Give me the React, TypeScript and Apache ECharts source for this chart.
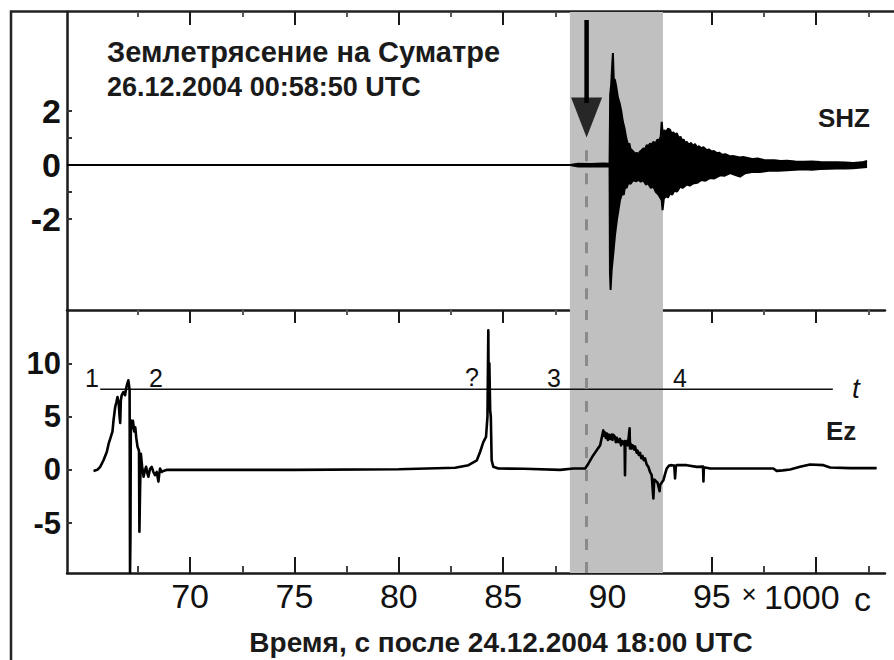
import React, { useEffect, useRef } from 'react';
import * as echarts from 'echarts';

// time axis, thousands of seconds after 24.12.2004 18:00 UTC
const X_MIN = 64.1;
const X_MAX = 103.3;
const xMajorTicks = [70, 75, 80, 85, 90, 95, 100];
const xMinorTicks = [67.5, 72.5, 77.5, 82.5, 87.5, 92.5, 97.5, 102.5];
const xLabelValues = [70, 75, 80, 85, 90, 95];

// SHZ panel
const SHZ_MIN = -5.37;
const SHZ_MAX = 5.67;
const shzTickValues = [-2, -1, 0, 1, 2];
const shzLabelValues = [-2, 0, 2];

// Ez panel
const EZ_MIN = -9.68;
const EZ_MAX = 15;
const ezTickValues = [-5, 0, 5, 10];
const ezLabelValues = [-5, 0, 5, 10];

// SHZ seismogram envelope (upper / lower)
const shzUpTime = [64.11, 88.2, 88.6, 89.2, 89.8, 90.1, 90.13, 90.18, 90.22, 90.26, 90.3, 90.36, 90.42, 90.5, 90.58, 90.66, 90.74, 90.82, 90.9, 90.95, 91.0, 91.05, 91.1, 91.17, 91.24, 91.32, 91.4, 91.48, 91.56, 91.64, 91.72, 91.8, 91.88, 91.96, 92.04, 92.12, 92.2, 92.3, 92.4, 92.48, 92.55, 92.6, 92.66, 92.73, 92.8, 92.9, 93.0, 93.08, 93.16, 93.24, 93.32, 93.42, 93.5, 93.58, 93.65, 93.72, 93.8, 93.9, 94.0, 94.1, 94.2, 94.28, 94.38, 94.5, 94.6, 94.76, 94.85, 95.0, 95.1, 95.24, 95.35, 95.5, 95.65, 95.88, 96.0, 96.35, 96.5, 96.98, 97.2, 97.5, 98.0, 98.3, 98.61, 99.0, 99.4, 99.8, 100.19, 100.6, 101.0, 101.4, 101.77, 102.2, 102.44];
const shzUp = [0, 0, 0.05, 0.04, 0.06, 0.05, 2.6, 3.0, 3.6, 4.15, 3.2, 3.15, 2.9, 2.5, 2.3, 2.0, 1.6, 1.35, 1.0, 0.85, 0.75, 0.8, 0.6, 0.55, 0.5, 0.42, 0.45, 0.4, 0.5, 0.55, 0.62, 0.58, 0.74, 0.7, 0.8, 0.75, 0.86, 0.8, 0.95, 0.9, 1.05, 1.6, 1.05, 1.3, 1.2, 1.35, 1.3, 1.15, 1.22, 1.1, 1.18, 1.0, 1.05, 0.9, 0.95, 0.82, 0.86, 0.75, 0.82, 0.7, 0.78, 0.65, 0.7, 0.62, 0.66, 0.55, 0.58, 0.5, 0.52, 0.44, 0.46, 0.38, 0.4, 0.32, 0.34, 0.28, 0.3, 0.22, 0.24, 0.19, 0.18, 0.15, 0.16, 0.13, 0.12, 0.13, 0.11, 0.1, 0.1, 0.09, 0.08, 0.1, 0.15];
const shzLowTime = [64.11, 88.2, 88.6, 89.4, 90.1, 90.12, 90.15, 90.2, 90.28, 90.36, 90.45, 90.52, 90.6, 90.7, 90.78, 90.84, 90.92, 91.0, 91.1, 91.24, 91.36, 91.5, 91.6, 91.72, 91.84, 91.95, 92.08, 92.2, 92.32, 92.45, 92.6, 92.64, 92.7, 92.8, 92.9, 93.0, 93.1, 93.2, 93.34, 93.48, 93.6, 93.8, 93.95, 94.1, 94.3, 94.5, 94.7, 94.92, 95.1, 95.4, 95.6, 95.88, 96.1, 96.35, 96.6, 96.98, 97.3, 97.8, 98.2, 98.61, 99.0, 99.4, 99.8, 100.19, 100.6, 101.0, 101.4, 101.77, 102.44];
const shzLow = [0, 0, -0.05, -0.04, -0.05, -4.0, -4.63, -3.9, -3.27, -2.6, -2.04, -1.7, -1.3, -1.05, -1.1, -0.8, -0.85, -0.65, -0.7, -0.56, -0.6, -0.55, -0.62, -0.56, -0.72, -0.68, -0.85, -0.8, -1.0, -1.1, -1.3, -1.67, -1.25, -1.15, -1.2, -1.04, -1.1, -0.95, -0.98, -0.8, -0.85, -0.72, -0.76, -0.68, -0.66, -0.55, -0.58, -0.48, -0.5, -0.38, -0.4, -0.3, -0.36, -0.43, -0.3, -0.25, -0.26, -0.2, -0.21, -0.19, -0.17, -0.16, -0.17, -0.15, -0.14, -0.13, -0.13, -0.12, -0.07];

// Ez trace
const ezTime = [65.37, 65.55, 65.69, 65.85, 66.01, 66.1, 66.17, 66.28, 66.33, 66.41, 66.46, 66.52, 66.58, 66.62, 66.65, 66.68, 66.72, 66.8, 66.88, 66.93, 66.97, 67.04, 67.1, 67.12, 67.14, 67.16, 67.21, 67.26, 67.32, 67.37, 67.42, 67.48, 67.55, 67.57, 67.6, 67.64, 67.7, 67.77, 67.83, 67.89, 67.95, 68.0, 68.08, 68.16, 68.24, 68.32, 68.4, 68.48, 68.52, 68.56, 68.64, 68.72, 68.9, 75.0, 80.0, 82.7, 83.34, 83.74, 83.9, 84.05, 84.18, 84.25, 84.29, 84.31, 84.34, 84.38, 84.41, 84.45, 84.53, 84.77, 86.0, 87.73, 88.37, 88.93, 89.09, 89.32, 89.65, 89.8, 89.84, 89.88, 89.92, 89.97, 90.02, 90.08, 90.12, 90.2, 90.24, 90.28, 90.36, 90.4, 90.45, 90.52, 90.6, 90.65, 90.7, 90.78, 90.82, 90.84, 90.86, 90.92, 90.98, 91.06, 91.08, 91.1, 91.16, 91.2, 91.28, 91.32, 91.4, 91.44, 91.5, 91.56, 91.62, 91.68, 91.74, 91.8, 91.88, 91.96, 92.04, 92.12, 92.2, 92.24, 92.28, 92.4, 92.5, 92.52, 92.6, 92.68, 92.76, 92.84, 92.95, 93.08, 93.2, 93.24, 93.28, 93.32, 93.8, 94.28, 94.58, 94.6, 94.62, 94.92, 95.72, 97.31, 97.95, 98.11, 98.4, 98.75, 99.23, 99.71, 100.35, 100.67, 101.62, 102.9];
const ezValue = [-0.1, 0.0, 0.28, 0.9, 1.7, 2.5, 2.9, 3.6, 4.66, 5.9, 6.3, 6.84, 6.2, 5.0, 4.4, 6.5, 7.0, 7.3, 7.0, 7.6, 7.94, 8.4, 7.5, -9.6, -6.4, 4.66, 3.9, 4.6, 3.6, 4.0, 3.0, 2.16, 1.8, -5.8, -2.0, 1.5, 0.3, -0.65, -0.1, 0.28, -0.3, -0.65, 0.1, 0.28, -0.2, -0.5, -0.2, -1.1, -0.4, 0.13, -0.2, -0.1, 0.0, 0.0, 0.05, 0.2, 0.44, 0.9, 1.7, 2.6, 3.1, 5.0, 13.1, 6.0, 10.0, 5.5, 5.0, 0.9, 0.28, 0.13, 0.1, 0.0, 0.13, 0.13, 0.6, 1.38, 2.3, 3.7, 3.2, 3.5, 3.0, 3.4, 2.8, 3.3, 2.9, 3.3, 2.8, 3.3, 3.1, 2.6, 3.0, 2.6, 2.9, 2.3, 2.7, 2.4, 2.7, -0.5, 2.4, 2.7, 2.3, 3.9, 2.0, 2.5, 2.0, 2.3, 1.9, 2.2, 1.6, 1.8, 1.4, 1.6, 1.1, 1.3, 0.9, 1.07, 0.5, 0.28, -0.2, -0.5, -2.68, -0.9, -0.97, -1.2, -2.0, -1.43, -1.2, -0.97, -0.4, 0.13, 0.4, 0.44, 0.4, -0.8, 0.4, 0.44, 0.44, 0.28, 0.3, -1.1, 0.25, 0.13, 0.13, 0.13, 0.13, -0.1, -0.05, 0.04, 0.28, 0.5, 0.44, 0.22, 0.16, 0.16];

// annotations
const bandStart = 88.2;
const bandEnd = 92.66;
const arrivalTime = 89.0;
const tLineLevel = 7.56;
const tLineStart = 65.69;
const tLineEnd = 100.8;

const zip = (xs: number[], ys: number[]) => xs.map((x, i) => [x, ys[i]]);

const FONT = '"Liberation Sans", Arial, sans-serif';
const AXIS = '#1a1a1a';

function buildOption() {
  const xBase = (gridIndex: number, position: 'top' | 'bottom') => ({
    type: 'value',
    gridIndex,
    position,
    min: X_MIN,
    max: X_MAX,
    splitLine: { show: false },
    axisLabel: { show: false },
  });

  return {
    animation: false,
    backgroundColor: '#ffffff',
    grid: [
      { left: 67, top: 12, width: 818, height: 298 },
      { left: 67, top: 310, width: 818, height: 263 },
    ],
    xAxis: [
      {
        ...xBase(0, 'top'),
        axisLine: { show: false, onZero: false },
        axisTick: { show: true, inside: true, length: 13, customValues: xMajorTicks, lineStyle: { color: AXIS, width: 2 } },
      },
      {
        ...xBase(0, 'top'),
        axisLine: { show: false, onZero: false },
        axisTick: { show: true, inside: true, length: 5, customValues: xMinorTicks, lineStyle: { color: '#555', width: 2 } },
      },
      {
        ...xBase(1, 'bottom'),
        axisLine: { show: true, onZero: false, lineStyle: { color: AXIS, width: 2.5 } },
        axisTick: { show: true, inside: true, length: 16, customValues: xMajorTicks, lineStyle: { color: AXIS, width: 2 } },
        axisLabel: {
          show: true,
          customValues: xLabelValues,
          margin: 6,
          color: '#111',
          fontFamily: FONT,
          fontSize: 34,
        },
      },
      {
        ...xBase(1, 'bottom'),
        axisLine: { show: false, onZero: false },
        axisTick: { show: true, inside: true, length: 7, customValues: xMinorTicks, lineStyle: { color: '#444', width: 2 } },
      },
      {
        ...xBase(1, 'top'),
        axisLine: { show: true, onZero: false, lineStyle: { color: AXIS, width: 2.5 } },
        axisTick: { show: true, inside: true, length: 13, customValues: xMajorTicks, lineStyle: { color: AXIS, width: 2 } },
      },
      {
        ...xBase(1, 'top'),
        axisLine: { show: false, onZero: false },
        axisTick: { show: true, inside: true, length: 5, customValues: xMinorTicks, lineStyle: { color: '#555', width: 2 } },
      },
    ],
    yAxis: [
      {
        type: 'value',
        gridIndex: 0,
        min: SHZ_MIN,
        max: SHZ_MAX,
        splitLine: { show: false },
        axisLine: { show: true, onZero: false, lineStyle: { color: AXIS, width: 2.5 } },
        axisTick: { show: true, inside: true, length: 5, customValues: shzTickValues, lineStyle: { color: '#333', width: 2 } },
        axisLabel: { show: true, customValues: shzLabelValues, margin: 6, color: '#111', fontFamily: FONT, fontSize: 34, fontWeight: 'bold' },
      },
      {
        type: 'value',
        gridIndex: 1,
        min: EZ_MIN,
        max: EZ_MAX,
        splitLine: { show: false },
        axisLine: { show: true, onZero: false, lineStyle: { color: AXIS, width: 2.5 } },
        axisTick: { show: true, inside: true, length: 5, customValues: ezTickValues, lineStyle: { color: '#333', width: 2 } },
        axisLabel: { show: true, customValues: ezLabelValues, margin: 6, color: '#111', fontFamily: FONT, fontSize: 31, fontWeight: 'bold' },
      },
    ],
    series: [
      // gray band, upper panel
      {
        type: 'line',
        xAxisIndex: 0,
        yAxisIndex: 0,
        z: -1,
        data: [[X_MIN, 0]],
        showSymbol: false,
        lineStyle: { opacity: 0 },
        silent: true,
        markArea: {
          silent: true,
          itemStyle: { color: '#c0c0c0', opacity: 1 },
          data: [[{ xAxis: bandStart }, { xAxis: bandEnd }]],
        },
        markLine: {
          silent: true,
          symbol: ['none', 'none'],
          label: { show: false },
          lineStyle: { type: [11, 12], color: '#8a8a8a', width: 3 },
          data: [[{ coord: [arrivalTime, 0.55] }, { coord: [arrivalTime, SHZ_MIN] }]],
        },
      },
      // gray band, lower panel
      {
        type: 'line',
        xAxisIndex: 2,
        yAxisIndex: 1,
        z: -1,
        data: [[X_MIN, 0]],
        showSymbol: false,
        lineStyle: { opacity: 0 },
        silent: true,
        markArea: {
          silent: true,
          itemStyle: { color: '#c0c0c0', opacity: 1 },
          data: [[{ xAxis: bandStart }, { xAxis: bandEnd }]],
        },
        markLine: {
          silent: true,
          symbol: ['none', 'none'],
          label: { show: false },
          lineStyle: { type: [11, 12], color: '#8a8a8a', width: 3 },
          data: [{ xAxis: arrivalTime }],
        },
      },
      // SHZ envelope
      {
        type: 'line',
        xAxisIndex: 0,
        yAxisIndex: 0,
        z: 5,
        data: zip(shzUpTime, shzUp),
        showSymbol: false,
        lineStyle: { color: '#000', width: 2 },
        areaStyle: { color: '#000', opacity: 1 },
      },
      {
        type: 'line',
        xAxisIndex: 0,
        yAxisIndex: 0,
        z: 5,
        data: zip(shzLowTime, shzLow),
        showSymbol: false,
        lineStyle: { color: '#000', width: 2 },
        areaStyle: { color: '#000', opacity: 1 },
      },
      // arrow
      {
        type: 'line',
        xAxisIndex: 0,
        yAxisIndex: 0,
        z: 6,
        data: [[arrivalTime, 5.37], [arrivalTime, 2.3]],
        showSymbol: false,
        lineStyle: { color: '#000', width: 4.5 },
      },
      {
        type: 'scatter',
        xAxisIndex: 0,
        yAxisIndex: 0,
        z: 6,
        data: [[arrivalTime, 1.76]],
        symbol: 'triangle',
        symbolRotate: 180,
        symbolSize: [31, 40],
        itemStyle: { color: '#000' },
      },
      // t line
      {
        type: 'line',
        xAxisIndex: 2,
        yAxisIndex: 1,
        z: 4,
        data: [[tLineStart, tLineLevel], [tLineEnd, tLineLevel]],
        showSymbol: false,
        lineStyle: { color: '#111', width: 1.6 },
      },
      // Ez trace
      {
        type: 'line',
        xAxisIndex: 2,
        yAxisIndex: 1,
        z: 5,
        data: zip(ezTime, ezValue),
        showSymbol: false,
        lineStyle: { color: '#000', width: 2.6, join: 'round' },
      },
    ],
    graphic: [
      {
        type: 'polyline',
        silent: true,
        shape: { points: [[11, 660], [11, 11.5], [894, 11.5]] },
        style: { stroke: '#222', lineWidth: 2.5, fill: 'none' },
      },
      {
        type: 'text', x: 107, y: 52,
        style: { text: 'Землетрясение на Суматре', font: `bold 29px ${FONT}`, fill: '#1a1a1a', align: 'left', verticalAlign: 'middle' },
      },
      {
        type: 'text', x: 107, y: 87,
        style: { text: '26.12.2004 00:58:50 UTC', font: `bold 27px ${FONT}`, fill: '#1a1a1a', align: 'left', verticalAlign: 'middle' },
      },
      {
        type: 'text', x: 818, y: 118,
        style: { text: 'SHZ', font: `bold 26px ${FONT}`, fill: '#1a1a1a', align: 'left', verticalAlign: 'middle' },
      },
      {
        type: 'text', x: 826, y: 431,
        style: { text: 'Ez', font: `bold 26px ${FONT}`, fill: '#1a1a1a', align: 'left', verticalAlign: 'middle' },
      },
      { type: 'text', x: 92, y: 378, style: { text: '1', font: `25px ${FONT}`, fill: '#111', align: 'center', verticalAlign: 'middle' } },
      { type: 'text', x: 156, y: 378, style: { text: '2', font: `25px ${FONT}`, fill: '#111', align: 'center', verticalAlign: 'middle' } },
      { type: 'text', x: 472, y: 377, style: { text: '?', font: `25px ${FONT}`, fill: '#111', align: 'center', verticalAlign: 'middle' } },
      { type: 'text', x: 554, y: 378, style: { text: '3', font: `25px ${FONT}`, fill: '#111', align: 'center', verticalAlign: 'middle' } },
      { type: 'text', x: 680, y: 378, style: { text: '4', font: `25px ${FONT}`, fill: '#111', align: 'center', verticalAlign: 'middle' } },
      { type: 'text', x: 856, y: 388, style: { text: 't', font: `italic 28px ${FONT}`, fill: '#111', align: 'center', verticalAlign: 'middle' } },
      { type: 'text', x: 749, y: 594, style: { text: '×', font: `26px ${FONT}`, fill: '#111', align: 'center', verticalAlign: 'middle' } },
      { type: 'text', x: 764, y: 597, style: { text: '1000', font: `34px ${FONT}`, fill: '#111', align: 'left', verticalAlign: 'middle' } },
      { type: 'text', x: 854, y: 599, style: { text: 'c', font: `34px ${FONT}`, fill: '#111', align: 'left', verticalAlign: 'middle' } },
      {
        type: 'text', x: 501, y: 642,
        style: { text: 'Время, с после 24.12.2004 18:00 UTC', font: `bold 28px ${FONT}`, fill: '#1a1a1a', align: 'center', verticalAlign: 'middle' },
      },
    ],
  };
}

export default function App() {
  const ref = useRef<HTMLDivElement>(null);
  useEffect(() => {
    if (!ref.current) return;
    const chart = echarts.init(ref.current, null, { renderer: 'svg' });
    chart.setOption(buildOption() as any);
    return () => {
      chart.dispose();
    };
  }, []);
  return (
    <div
      ref={ref}
      style={{ position: 'fixed', left: 0, top: 0, width: 894, height: 660, background: '#ffffff' }}
    />
  );
}
